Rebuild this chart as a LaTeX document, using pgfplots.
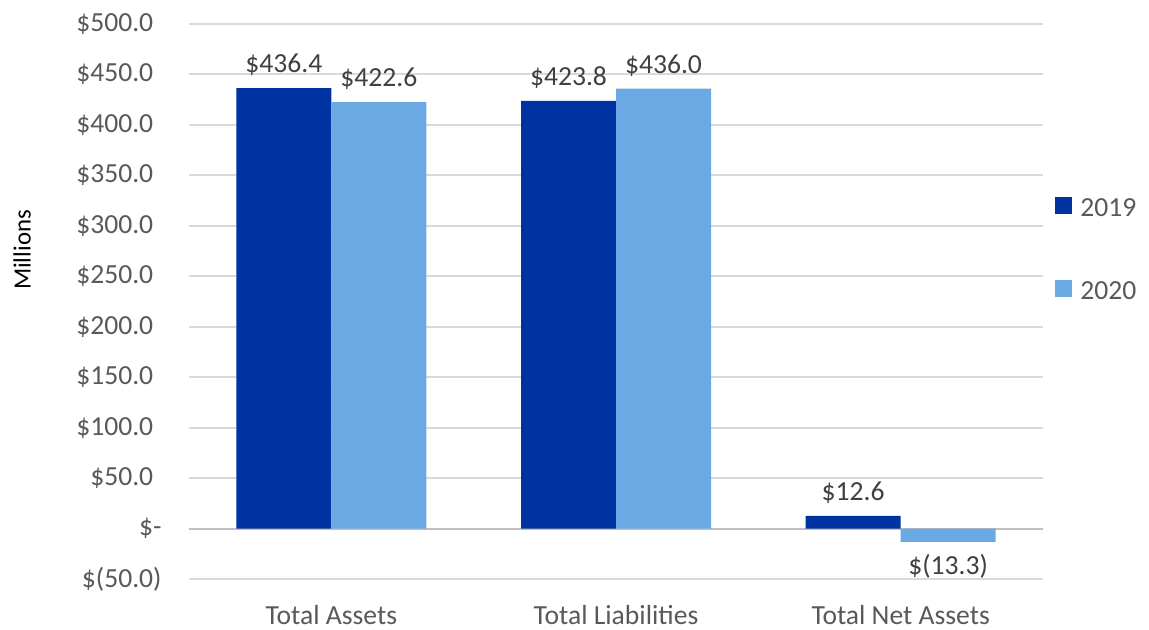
\documentclass[border=0pt]{standalone}
\usepackage{fontspec}
\setmainfont{Carlito}
\usepackage{pgfplots}
\pgfplotsset{compat=1.18}
\definecolor{c2019}{HTML}{0033A1}
\definecolor{c2020}{HTML}{6AA9E4}
\definecolor{gridgray}{HTML}{D9D9D9}
\definecolor{zerogray}{HTML}{BFBFBF}
\definecolor{ticktext}{HTML}{595959}
\definecolor{labeltext}{HTML}{404040}
\newcommand{\lblfont}{\fontsize{13.8}{16}\selectfont}
\begin{document}
\begin{tikzpicture}
\path[use as bounding box] (-94.5pt,-25pt) rectangle (480pt,289.5pt);
\begin{axis}[
  scale only axis, width=427pt, height=277.5pt,
  ybar=0pt, bar width=47.5pt,
  xmin=-0.5, xmax=2.5, ymin=-50, ymax=500,
  xtick={0,1,2}, xticklabels={Total Assets,Total Liabilities,Total Net Assets},
  ytick={-50,0,50,100,150,200,250,300,350,400,450,500},
  yticklabels={\$(50.0),\$-\hspace{6pt},\$50.0\hphantom{)},\$100.0\hphantom{)},\$150.0\hphantom{)},\$200.0\hphantom{)},\$250.0\hphantom{)},\$300.0\hphantom{)},\$350.0\hphantom{)},\$400.0\hphantom{)},\$450.0\hphantom{)},\$500.0\hphantom{)}},
  yticklabel style={font=\lblfont, text=ticktext, anchor=east, inner sep=0pt, xshift=-13.5pt},
  xticklabel style={font=\lblfont, text=ticktext, anchor=north, inner sep=0pt, yshift=-8.5pt},
  axis line style={draw=none}, tick style={draw=none},
  ymajorgrids, grid style={draw=gridgray, line width=1pt},
  extra y ticks={0}, extra y tick labels={},
  extra y tick style={grid style={draw=zerogray, line width=1pt}},
  nodes near coords, point meta=explicit symbolic,
  visualization depends on={rawy \as \rawy},
  every node near coord/.append style={font=\lblfont, text=labeltext, inner sep=6pt,
    /utils/exec={\ifdim\rawy pt<0pt \def\myanc{north}\else\def\myanc{south}\fi},
    anchor=\myanc},
  legend style={at={(1,0.592)}, anchor=west, xshift=6pt, draw=none, fill=none,
    font=\lblfont, text=ticktext, row sep=27pt, inner sep=0pt,
    nodes={inner xsep=4pt}},
  legend cell align=left,
  legend image code/.code={\fill[#1] (0pt,-2.5pt) rectangle (8.5pt,6pt);},
]
\addplot[fill=c2019, draw=none] coordinates {(0,436.4) [\$436.4] (1,423.8) [\$423.8] (2,12.6) [\$12.6]};
\addplot[fill=c2020, draw=none] coordinates {(0,422.6) [\$422.6] (1,436.0) [\$436.0] (2,-13.3) [\$(13.3)]};
\legend{2019,2020}
\end{axis}
\node[rotate=90, font=\fontsize{12.4}{14}\selectfont] at (-83.5pt,164.5pt) {Millions};
\end{tikzpicture}
\end{document}
